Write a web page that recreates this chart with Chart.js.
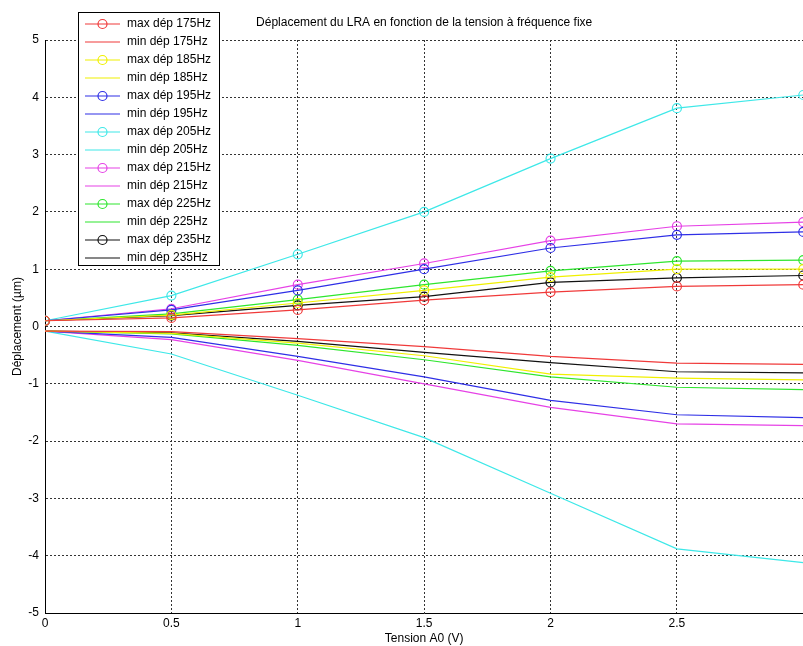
<!DOCTYPE html>
<html>
<head>
<meta charset="utf-8">
<script src="https://cdn.jsdelivr.net/npm/chart.js@4/dist/chart.umd.min.js"></script>
<style>
  html, body { margin: 0; padding: 0; background: #fff; overflow: hidden; }
  canvas { display: block; }
</style>
</head>
<body>
<canvas id="myChart" width="809" height="646"></canvas>
<script>
// Tension A0 (V)
const tension = [0, 0.5, 1, 1.5, 2, 2.5, 3];

// max / min displacement (µm) per frequency
const max175 = [0.10, 0.15, 0.29, 0.46, 0.60, 0.70, 0.73];
const min175 = [-0.08, -0.09, -0.21, -0.35, -0.52, -0.64, -0.66];
const max185 = [0.10, 0.20, 0.41, 0.63, 0.86, 1.00, 1.00];
const min185 = [-0.08, -0.12, -0.29, -0.51, -0.83, -0.90, -0.93];
const max195 = [0.10, 0.29, 0.63, 1.00, 1.37, 1.60, 1.65];
const min195 = [-0.08, -0.19, -0.52, -0.88, -1.29, -1.54, -1.59];
const max205 = [0.10, 0.54, 1.26, 2.00, 2.93, 3.81, 4.04];
const min205 = [-0.08, -0.48, -1.20, -1.94, -2.91, -3.88, -4.12];
const max215 = [0.10, 0.31, 0.73, 1.10, 1.50, 1.75, 1.82];
const min215 = [-0.08, -0.23, -0.59, -1.00, -1.41, -1.70, -1.73];
const max225 = [0.10, 0.22, 0.47, 0.73, 0.97, 1.14, 1.16];
const min225 = [-0.08, -0.13, -0.33, -0.58, -0.88, -1.06, -1.10];
const max235 = [0.10, 0.19, 0.37, 0.52, 0.77, 0.85, 0.89];
const min235 = [-0.08, -0.11, -0.26, -0.45, -0.63, -0.79, -0.81];

const labels = ['max dép 175Hz', 'min dép 175Hz', 'max dép 185Hz', 'min dép 185Hz',
  'max dép 195Hz', 'min dép 195Hz', 'max dép 205Hz', 'min dép 205Hz',
  'max dép 215Hz', 'min dép 215Hz', 'max dép 225Hz', 'min dép 225Hz',
  'max dép 235Hz', 'min dép 235Hz'];
const series = [max175, min175, max185, min185, max195, min195, max205, min205,
  max215, min215, max225, min225, max235, min235];
const colors = ['#f03a3a', '#f0f000', '#2f2fe6', '#3ee8e8', '#e642e6', '#2ee62e', '#111111'];

const FONT = '"Liberation Sans", Arial, sans-serif';
const chartTitle = 'Déplacement du LRA en fonction de la tension à fréquence fixe';

const datasets = series.map((vals, i) => {
  const isMax = i % 2 === 0;
  return {
    label: labels[i],
    data: vals.map((v, j) => ({ x: tension[j], y: v })),
    borderColor: colors[Math.floor(i / 2)],
    backgroundColor: 'rgba(0,0,0,0)',
    borderWidth: 1.2,
    pointRadius: isMax ? 4.5 : 0,
    pointHoverRadius: isMax ? 4.5 : 0,
    pointBorderWidth: 1.2,
    pointBackgroundColor: 'rgba(0,0,0,0)',
    tension: 0
  };
});

// title + matlab style legend box drawn on top
const matlabLegend = {
  id: 'matlabLegend',
  afterDraw(chart) {
    const ctx = chart.ctx;
    const area = chart.chartArea;
    ctx.save();
    ctx.fillStyle = '#000';
    ctx.font = '12px ' + FONT;
    ctx.textAlign = 'center';
    ctx.textBaseline = 'middle';
    ctx.fillText(chartTitle, (area.left + area.right) / 2, 23);

    const bx = 78, by = 12, bw = 141, bh = 253;
    ctx.fillStyle = '#fff';
    ctx.fillRect(bx, by, bw, bh);
    ctx.strokeStyle = '#000';
    ctx.lineWidth = 1;
    ctx.strokeRect(bx + 0.5, by + 0.5, bw, bh);

    chart.data.datasets.forEach((ds, i) => {
      const y = 24 + i * 18;
      ctx.strokeStyle = ds.borderColor;
      ctx.lineWidth = 1.2;
      ctx.beginPath();
      ctx.moveTo(85, y);
      ctx.lineTo(120, y);
      ctx.stroke();
      if (ds.pointRadius > 0) {
        ctx.beginPath();
        ctx.arc(102.5, y, 4.5, 0, Math.PI * 2);
        ctx.stroke();
      }
      ctx.fillStyle = '#000';
      ctx.textAlign = 'left';
      ctx.fillText(ds.label, 127, y);
    });
    ctx.restore();
  }
};

const ctx = document.getElementById('myChart').getContext('2d');
new Chart(ctx, {
  type: 'line',
  data: { datasets: datasets },
  options: {
    responsive: false,
    animation: false,
    layout: { padding: { top: 40, right: 0, left: 0, bottom: 0 } },
    plugins: {
      legend: { display: false },
      tooltip: { enabled: false }
    },
    scales: {
      x: {
        type: 'linear',
        min: 0,
        max: 3,
        afterFit(scale) { scale.height = 33; },
        ticks: {
          stepSize: 0.5,
          color: '#000',
          font: { family: FONT, size: 12 },
          padding: 3,
          maxRotation: 0,
          callback: (v) => (v === 3 ? '' : v)
        },
        grid: { color: '#333', lineWidth: 1, drawTicks: false },
        border: { display: true, color: '#000', width: 1, dash: [2, 2] },
        title: {
          display: true,
          text: 'Tension A0 (V)',
          color: '#000',
          font: { family: FONT, size: 12 },
          padding: { top: 0, bottom: 0 }
        }
      },
      y: {
        min: -5,
        max: 5,
        afterFit(scale) { scale.width = 45; },
        ticks: {
          stepSize: 1,
          color: '#000',
          font: { family: FONT, size: 12 },
          padding: 6
        },
        grid: { color: '#333', lineWidth: 1, drawTicks: false },
        border: { display: true, color: '#000', width: 1, dash: [2, 2] },
        title: {
          display: true,
          text: 'Déplacement (µm)',
          color: '#000',
          font: { family: FONT, size: 12 },
          padding: { top: 10, bottom: 0 }
        }
      }
    }
  },
  plugins: [matlabLegend]
});
</script>
</body>
</html>
